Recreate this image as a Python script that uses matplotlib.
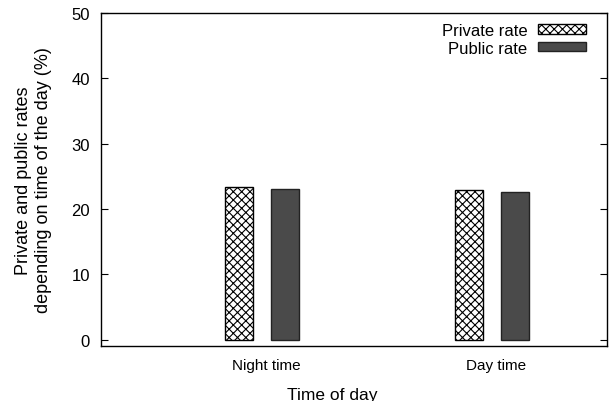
import matplotlib
matplotlib.use("Agg")
import matplotlib.pyplot as plt
import numpy as np

plt.rcParams['font.family'] = ['Liberation Sans', 'DejaVu Sans']
plt.rcParams['hatch.linewidth'] = 0.8

categories = ["Night time", "Day time"]
private_rate = [23.35, 22.9]
public_rate = [23.13, 22.68]

fig = plt.figure(figsize=(6.13, 4.02), dpi=100)
ax = fig.add_axes([0.1648, 0.1376, 0.825, 0.8275])

x = np.arange(len(categories))
w = 0.122
off = 0.1
ax.bar(x - off, private_rate, w, facecolor='white', edgecolor='black',
       hatch='xxxx', linewidth=1.0, label='Private rate')
ax.bar(x + off, public_rate, w, facecolor='#4a4a4a', edgecolor='#222222',
       linewidth=1.0, label='Public rate')

ax.set_xlim(-0.7, 1.5)
ax.set_ylim(-0.9, 50)
ax.set_yticks([0, 10, 20, 30, 40, 50])
# gnuplot puts the labels a touch right of the group centre
ax.set_xticks(x + 0.02)
ax.set_xticklabels(categories, fontsize=11)
ax.tick_params(axis='x', length=0, pad=9)
ax.tick_params(axis='y', direction='in', right=True, length=5, labelsize=12, pad=8)
for s in ax.spines.values():
    s.set_linewidth(1.0)

ax.set_xlabel("Time of day", fontsize=12.5)
ax.xaxis.set_label_coords(0.458, -0.125)
ax.set_ylabel("Private and public rates\ndepending on time of the day (%)", fontsize=13, labelpad=14)

ax.legend(loc='upper right', bbox_to_anchor=(0.972, 0.99), borderaxespad=0,
          frameon=False, markerfirst=False, fontsize=12,
          handlelength=2.9, handleheight=0.5,
          labelspacing=0.15, handletextpad=0.6)

fig.savefig("out.png", dpi=100)
